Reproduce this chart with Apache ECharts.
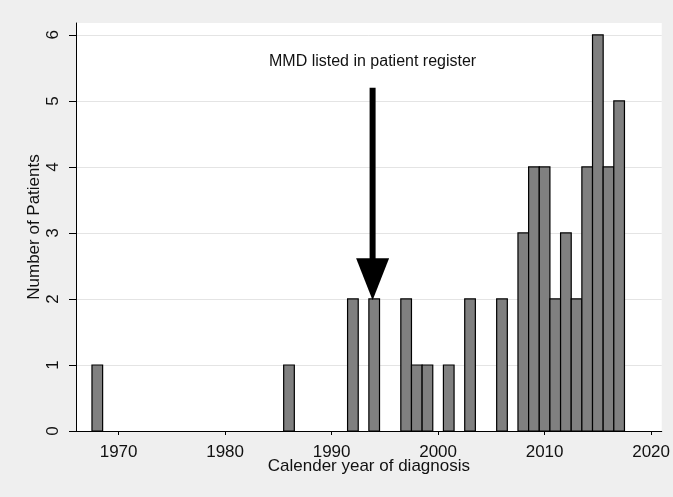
<!DOCTYPE html>
<html lang="en">
<head>
<meta charset="UTF-8">
<title>MMD diagnoses by year</title>
<script src="https://cdn.jsdelivr.net/npm/echarts@6/dist/echarts.min.js"></script>
<style>html,body{margin:0;padding:0;background:#efefef;}</style>
</head>
<body>
<div id="main" style="width:673px;height:497px;"></div>
<script type="text/javascript">
    // patients per calendar year of diagnosis
    var years = [1968, 1986, 1992, 1994, 1997, 1998, 1999, 2001, 2003, 2006,
                 2008, 2009, 2010, 2011, 2012, 2013, 2014, 2015, 2016, 2017];
    var patients = [1, 1, 2, 2, 2, 1, 1, 1, 2, 2,
                    3, 4, 4, 2, 3, 2, 4, 6, 4, 5];
    var xTicks = [1970, 1980, 1990, 2000, 2010, 2020];
    var yTicks = [0, 1, 2, 3, 4, 5, 6];

    // annotation: label and arrow (year, arrow start, arrow tip, label height)
    var noteText = 'MMD listed in patient register';
    var noteYear = 1993.85;
    var arrowFrom = 5.2;
    var arrowTo = 1.98;
    var noteLevel = 5.6;

    var font = 'Liberation Sans';
    var barData = years.map(function (y, i) { return [y, patients[i]]; });

    var myChart = echarts.init(document.getElementById('main'));
    var option = {
        backgroundColor: '#efefef',
        animation: false,
        grid: {
            left: 76, right: 7, top: 23, bottom: 66,
            show: true, backgroundColor: '#fff', borderWidth: 0
        },
        xAxis: {
            type: 'value',
            min: 1966,
            max: 2021,
            name: 'Calender year of diagnosis',
            nameLocation: 'middle',
            nameGap: 27,
            nameMoveOverlap: false,
            nameTextStyle: {fontFamily: font, fontSize: 17, color: '#111'},
            axisLine: {show: true, lineStyle: {color: '#000'}},
            axisTick: {show: true, length: 4, customValues: xTicks, lineStyle: {color: '#000'}},
            axisLabel: {
                customValues: xTicks, margin: 13, fontFamily: font, fontSize: 17, color: '#111',
                formatter: function (v) { return String(v); }
            },
            splitLine: {show: false}
        },
        yAxis: {
            type: 'value',
            min: 0,
            max: 6.18,
            name: 'Number of Patients',
            nameLocation: 'middle',
            nameGap: 33,
            nameMoveOverlap: false,
            nameTextStyle: {fontFamily: font, fontSize: 17, color: '#111'},
            axisLine: {show: true, lineStyle: {color: '#000'}},
            axisTick: {show: true, length: 7, customValues: yTicks, lineStyle: {color: '#000'}},
            axisLabel: {customValues: yTicks, rotate: 90, margin: 14, fontFamily: font, fontSize: 17, color: '#111'},
            splitLine: {show: true, lineStyle: {color: '#e4e4e4'}}
        },
        series: [
            {
                type: 'custom',
                silent: true,
                encode: {x: 0, y: 1},
                data: barData,
                renderItem: function (params, api) {
                    var x = api.value(0), v = api.value(1);
                    var p0 = api.coord([x - 0.5, v]);
                    var p1 = api.coord([x + 0.5, 0]);
                    return {
                        type: 'rect',
                        shape: {x: p0[0], y: p0[1], width: p1[0] - p0[0], height: p1[1] - p0[1]},
                        style: {fill: '#808080', stroke: '#000', lineWidth: 1.2}
                    };
                }
            },
            {
                type: 'custom',
                silent: true,
                data: [[noteYear, arrowFrom, arrowTo, noteLevel]],
                encode: {x: 0, y: 1},
                renderItem: function (params, api) {
                    var top = api.coord([api.value(0), api.value(1)]);
                    var tip = api.coord([api.value(0), api.value(2)]);
                    var label = api.coord([api.value(0), api.value(3)]);
                    return {
                        type: 'group',
                        children: [
                            {
                                type: 'line',
                                shape: {x1: top[0], y1: top[1], x2: tip[0], y2: tip[1] - 40},
                                style: {stroke: '#000', lineWidth: 6}
                            },
                            {
                                type: 'polygon',
                                shape: {points: [[tip[0] - 16.5, tip[1] - 42], [tip[0] + 16.5, tip[1] - 42], [tip[0], tip[1]]]},
                                style: {fill: '#000'}
                            },
                            {
                                type: 'text',
                                x: label[0], y: label[1],
                                style: {
                                    text: noteText, fill: '#111',
                                    font: '16px "Liberation Sans"',
                                    align: 'center', verticalAlign: 'middle'
                                }
                            }
                        ]
                    };
                }
            }
        ]
    };
    myChart.setOption(option);
</script>
</body>
</html>
